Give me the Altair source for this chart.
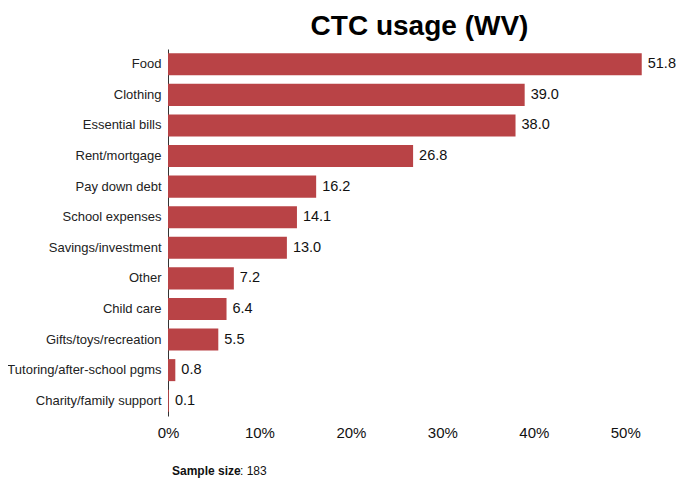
import altair as alt
import pandas as pd

categories = ["Food", "Clothing", "Essential bills", "Rent/mortgage", "Pay down debt",
              "School expenses", "Savings/investment", "Other", "Child care",
              "Gifts/toys/recreation", "Tutoring/after-school pgms", "Charity/family support"]
values = [51.8, 39.0, 38.0, 26.8, 16.2, 14.1, 13.0, 7.2, 6.4, 5.5, 0.8, 0.1]
x_ticks = [0, 10, 20, 30, 40, 50]
title_text = "CTC usage (WV)"
sample_label = "Sample size"
sample_value = ": 183"

df = pd.DataFrame({"cat": categories, "val": values})
df["lbl"] = [f"{v:.1f}" for v in values]

W, H = 503, 367
FONT = "Liberation Sans"

y_enc = alt.Y("cat:N", sort=categories, title=None,
              scale=alt.Scale(paddingInner=0.28, paddingOuter=0.14),
              axis=alt.Axis(domainColor="#333333", ticks=False, labelPadding=7,
                            labelFontSize=13, labelColor="#222222", labelFont=FONT,
                            labelLimit=300))
x_enc = alt.X("val:Q", title=None, scale=alt.Scale(domain=[0, 55], nice=False),
              axis=alt.Axis(values=x_ticks, labelExpr="datum.value + '%'", grid=False,
                            domain=False, ticks=False, labelFontSize=15, labelPadding=9,
                            labelFlush=False, labelOverlap=False,
                            labelColor="#111111", labelFont=FONT))

bars = alt.Chart(df).mark_bar(color="#B94346").encode(y=y_enc, x=x_enc)
labels = alt.Chart(df).mark_text(align="left", dx=6, fontSize=14.5, color="#111111",
                                 font=FONT).encode(
    y=alt.Y("cat:N", sort=categories), x="val:Q", text="lbl:N")

foot1 = alt.Chart(pd.DataFrame({"t": [sample_label]})).mark_text(
    align="left", baseline="alphabetic", fontSize=12, fontWeight="bold", font=FONT,
    color="#111111").encode(x=alt.value(4), y=alt.value(H + 59), text="t:N")
foot2 = alt.Chart(pd.DataFrame({"t": [sample_value]})).mark_text(
    align="left", baseline="alphabetic", fontSize=12, font=FONT,
    color="#111111").encode(x=alt.value(72), y=alt.value(H + 59), text="t:N")

chart = alt.layer(bars, labels, foot1, foot2).properties(
    width=W, height=H,
    title=alt.TitleParams(title_text, fontSize=28, font=FONT, fontWeight="bold",
                          anchor="middle", color="#000000", offset=8),
    autosize=alt.AutoSizeParams(type="none"),
    padding={"left": 160, "top": 41, "right": 5, "bottom": 63},
).configure_view(stroke=None)

chart.save("out.html", embed_options={"renderer": "svg", "actions": False})
